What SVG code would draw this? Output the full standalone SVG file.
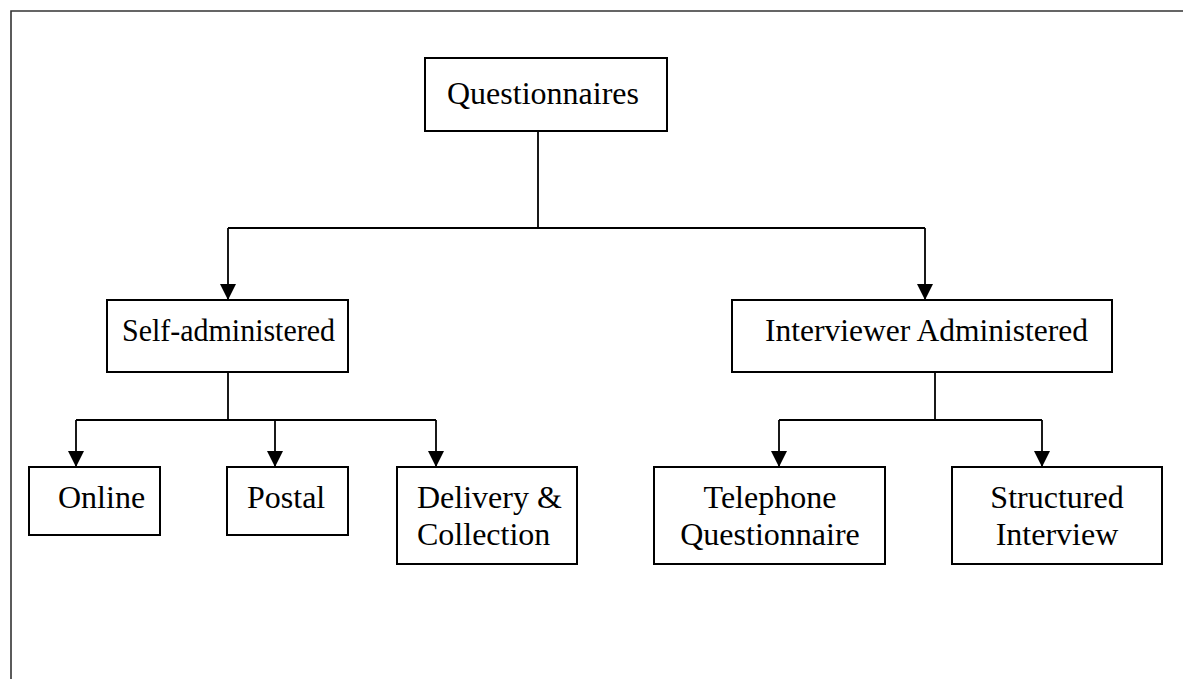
<svg xmlns="http://www.w3.org/2000/svg" width="1183" height="679" viewBox="0 0 1183 679">
<style>
.box{fill:#fff;stroke:#000;stroke-width:2}
.lbl{font-family:"Liberation Serif","Times New Roman",serif;font-size:32px;fill:#000}
.c{stroke:#000;stroke-width:1.8;fill:none}
.frame{stroke:#333;stroke-width:1.6;fill:none}
</style>
<defs>
<marker id="ah" markerUnits="userSpaceOnUse" markerWidth="16" markerHeight="16" refX="16" refY="8" orient="auto" viewBox="0 0 16 16">
<path d="M0,0 L16,8 L0,16 z" fill="#000"/>
</marker>
</defs>
<rect width="1183" height="679" fill="#fff"/>
<path class="frame" d="M11,679 V11 H1183"/>
<g id="connectors">
<path class="c" d="M538,131 V228"/>
<path class="c" d="M228,228 H925"/>
<path class="c" d="M228,228 V300" marker-end="url(#ah)"/>
<path class="c" d="M925,228 V300" marker-end="url(#ah)"/>
<path class="c" d="M228,372 V420"/>
<path class="c" d="M76,420 H436"/>
<path class="c" d="M76,420 V467" marker-end="url(#ah)"/>
<path class="c" d="M275,420 V467" marker-end="url(#ah)"/>
<path class="c" d="M436,420 V467" marker-end="url(#ah)"/>
<path class="c" d="M935,372 V420"/>
<path class="c" d="M779,420 H1042"/>
<path class="c" d="M779,420 V467" marker-end="url(#ah)"/>
<path class="c" d="M1042,420 V467" marker-end="url(#ah)"/>
</g>
<g id="questionnaires">
<rect class="box" x="425" y="58" width="242" height="73"/>
<text class="lbl" x="447" y="104">Questionnaires</text>
</g>
<g id="self-administered">
<rect class="box" x="107" y="300" width="241" height="72"/>
<text class="lbl" x="122" y="341" textLength="213" lengthAdjust="spacingAndGlyphs">Self-administered</text>
</g>
<g id="interviewer-administered">
<rect class="box" x="732" y="300" width="380" height="72"/>
<text class="lbl" x="765" y="341" textLength="323" lengthAdjust="spacingAndGlyphs">Interviewer Administered</text>
</g>
<g id="online">
<rect class="box" x="29" y="467" width="131" height="68"/>
<text class="lbl" x="58" y="508">Online</text>
</g>
<g id="postal">
<rect class="box" x="227" y="467" width="121" height="68"/>
<text class="lbl" x="247" y="508">Postal</text>
</g>
<g id="delivery-collection">
<rect class="box" x="397" y="467" width="180" height="97"/>
<text class="lbl" x="417" y="508">Delivery &amp;</text>
<text class="lbl" x="417" y="545">Collection</text>
</g>
<g id="telephone">
<rect class="box" x="654" y="467" width="231" height="97"/>
<text class="lbl" x="770" y="508" text-anchor="middle">Telephone</text>
<text class="lbl" x="770" y="545" text-anchor="middle">Questionnaire</text>
</g>
<g id="structured">
<rect class="box" x="952" y="467" width="210" height="97"/>
<text class="lbl" x="1057" y="508" text-anchor="middle">Structured</text>
<text class="lbl" x="1057" y="545" text-anchor="middle">Interview</text>
</g>
</svg>
